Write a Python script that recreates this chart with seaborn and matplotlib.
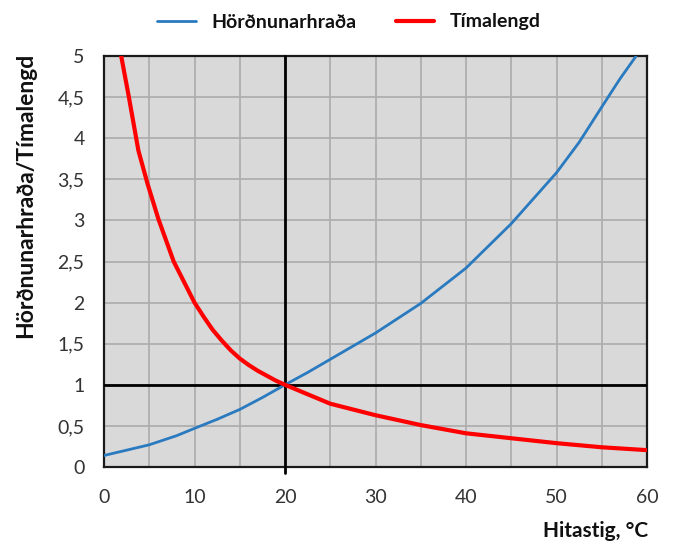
import numpy as np
import pandas as pd
import matplotlib
matplotlib.use("Agg")
import matplotlib.pyplot as plt
import seaborn as sns
from matplotlib.lines import Line2D

# ---- data ----
blue_x = [0, 5, 8, 10, 12.5, 15, 17.5, 20, 22.5, 25, 30, 35, 40, 45, 50, 52.5, 55, 57, 58.8]
blue_y = [0.14, 0.27, 0.38, 0.47, 0.58, 0.70, 0.845, 1.0, 1.15, 1.31, 1.63, 1.99, 2.42, 2.96, 3.58, 3.95, 4.38, 4.72, 5.0]
red_x = [1.9, 2.75, 3.8, 4.8, 6, 7.7, 10, 11, 12, 13, 14, 15, 16, 17, 18, 19, 20,
         25, 30, 35, 40, 45, 50, 55, 60]
red_y = [5.0, 4.5, 3.85, 3.45, 3.02, 2.5, 2.0, 1.83, 1.67, 1.54, 1.42, 1.32, 1.24, 1.17, 1.11, 1.05, 1.0,
         0.77, 0.63, 0.51, 0.41, 0.35, 0.29, 0.24, 0.205]
series_names = ["Hörðnunarhraða", "Tímalengd"]
x_ticks = [0, 10, 20, 30, 40, 50, 60]
y_ticks = [0, 0.5, 1, 1.5, 2, 2.5, 3, 3.5, 4, 4.5, 5]
y_tick_labels = ["0", "0,5", "1", "1,5", "2", "2,5", "3", "3,5", "4", "4,5", "5"]
x_title = "Hitastig, °C"
y_title = "Hörðnunarhraða/Tímalengd"

colors = {"Hörðnunarhraða": "#2a7ac0", "Tímalengd": "#ff0000"}
widths = {"Hörðnunarhraða": 2.0, "Tímalengd": 3.0}

df = pd.concat([
    pd.DataFrame({"x": blue_x, "y": blue_y, "s": series_names[0]}),
    pd.DataFrame({"x": red_x, "y": red_y, "s": series_names[1]}),
])

sns.set_theme(style="white")
plt.rcParams["font.family"] = ["Lato", "DejaVu Sans"]

fig = plt.figure(figsize=(6.75, 5.43), dpi=100)
ax = fig.add_axes([104 / 675, 1 - 467 / 543, 543 / 675, 411 / 543])
ax.set_facecolor("#d9d9d9")

for name in series_names:
    sub = df[df["s"] == name]
    sns.lineplot(data=sub, x="x", y="y", ax=ax, color=colors[name],
                 linewidth=widths[name], sort=False, legend=False,
                 estimator=None, zorder=4)

ax.set_xlim(0, 60)
ax.set_ylim(0, 5)
ax.set_xticks(np.arange(0, 61, 5), minor=True)
ax.set_yticks(y_ticks)
ax.set_yticklabels(y_tick_labels)
ax.set_xticks(x_ticks)
ax.set_xticklabels([str(t) for t in x_ticks])
ax.grid(True, which="both", color="#aeaeae", linewidth=1.3)
ax.set_axisbelow(True)
ax.tick_params(axis="both", which="both", length=0, labelsize=14, labelcolor="#333333")
ax.tick_params(axis="x", pad=16)
ax.tick_params(axis="y", pad=14)
for sp in ax.spines.values():
    sp.set_color("#1a1a1a")
    sp.set_linewidth(1.6)
    sp.set_visible(True)

ax.axhline(1, color="black", linewidth=2.0, zorder=3)
ax.axvline(20, ymin=-0.015, ymax=1, color="black", linewidth=2.0, zorder=3, clip_on=False)

ax.set_xlabel("")
ax.set_ylabel("")
fig.text(26 / 675, 1 - 195 / 543, y_title, rotation=90, ha="center", va="center",
         fontsize=16.5, fontweight="bold", color="#111111")
fig.text(648 / 675, 1 - 537 / 543, x_title, ha="right", va="baseline",
         fontsize=15, fontweight="bold", color="#111111")

handles = [Line2D([0], [0], color=colors[n], linewidth=widths[n]) for n in series_names]
leg = fig.legend(handles, series_names, loc="center", bbox_to_anchor=(349 / 675, 1 - 22 / 543),
                 ncol=2, frameon=False, handlelength=2.0, handletextpad=0.8, columnspacing=2.0,
                 prop={"weight": "bold", "size": 14})
for t in leg.get_texts():
    t.set_color("#111111")

fig.savefig("out.png", dpi=100)
